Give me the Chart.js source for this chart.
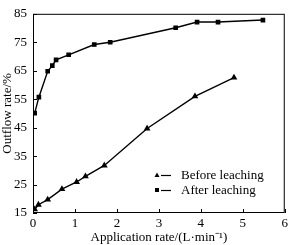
<!DOCTYPE html>
<html><head><meta charset="utf-8">
<script src="https://cdn.jsdelivr.net/npm/chart.js@4/dist/chart.umd.min.js"></script>
<style>html,body{margin:0;padding:0;background:#fff}#wrap{width:291px;height:245px}</style>
</head><body><div id="wrap"><canvas id="c"></canvas></div>
<script>
const beforeX = [0.04,0.13,0.35,0.69,1.04,1.25,1.70,2.72,3.86,4.79];
const beforeY = [16.3,17.9,19.7,23.4,25.9,27.9,31.7,44.7,56.0,62.6];
const afterX = [0.04,0.14,0.35,0.46,0.55,0.85,1.46,1.84,3.40,3.91,4.41,5.48];
const afterY = [50.1,55.7,64.8,66.8,68.8,70.6,74.2,75.0,80.1,82.1,82.1,82.8];
const xTicks = [0,1,2,3,4,5,6];
const yTicks = [15,25,35,45,55,65,75,85];
const seriesNames = ['Before leaching','After leaching'];

const FONT = 'Liberation Serif';
const pts = (xs, ys) => xs.map((x,i)=>({x, y: ys[i]}));

const framePlugin = {
  id:'frame',
  afterDraw(chart){
    const {ctx, chartArea:a, scales:{x,y}} = chart;
    ctx.save();
    ctx.strokeStyle='#000'; ctx.lineWidth=1;
    ctx.strokeRect(a.left+0.5, a.top+0.5, a.right-a.left-1, a.bottom-a.top-1);
    ctx.beginPath();
    xTicks.forEach(v=>{const px=Math.round(x.getPixelForValue(v))+0.5; ctx.moveTo(px,a.bottom); ctx.lineTo(px,a.bottom-4);});
    yTicks.forEach(v=>{const py=Math.round(y.getPixelForValue(v))+0.5; ctx.moveTo(a.left,py); ctx.lineTo(a.left+4,py);});
    ctx.stroke();
    // legend
    ctx.font = '13px "'+FONT+'"';
    ctx.textBaseline='middle'; ctx.fillStyle='#000';
    const items=[{y:175,style:'triangle'},{y:190,style:'rect'}];
    items.forEach((it,i)=>{
      const mx=157;
      ctx.beginPath();
      if(it.style==='triangle'){ctx.moveTo(mx,it.y-2.5);ctx.lineTo(mx+2.5,it.y+2);ctx.lineTo(mx-2.5,it.y+2);ctx.closePath();ctx.fill();}
      else{ctx.fillRect(mx-2,it.y-2,4,4);}
      ctx.beginPath(); ctx.lineWidth=1.2; ctx.moveTo(161,it.y+0.5); ctx.lineTo(171,it.y+0.5); ctx.stroke();
      ctx.fillText(seriesNames[i], 181, it.y+1);
    });
    ctx.restore();
  }
};

new Chart(document.getElementById('c'), {
  type:'scatter',
  data:{datasets:[
    {label:seriesNames[0], data:pts(beforeX,beforeY), showLine:true, borderColor:'#000', backgroundColor:'#000', borderWidth:1.4, pointStyle:'triangle', pointRadius:2.5, pointHoverRadius:2.5},
    {label:seriesNames[1], data:pts(afterX,afterY), showLine:true, borderColor:'#000', backgroundColor:'#000', borderWidth:1.4, pointStyle:'rect', pointRadius:2.3, pointHoverRadius:2.3}
  ]},
  options:{
    responsive:true, maintainAspectRatio:false, animation:false,
    layout:{padding:{top:2,right:1,left:0,bottom:0}},
    plugins:{legend:{display:false}, tooltip:{enabled:false}},
    scales:{
      x:{type:'linear', min:0, max:6,
        afterBuildTicks(s){s.ticks=xTicks.map(v=>({value:v}));},
        afterFit(s){s.height=32;},
        grid:{display:false, drawTicks:false}, border:{display:false},
        ticks:{color:'#000', font:{family:FONT,size:13}, padding:3, maxRotation:0},
        title:{display:true, text:'Application rate/(L·min⁻¹)', color:'#000', font:{family:FONT,size:13}, padding:{top:0,bottom:0}}
      },
      y:{type:'linear', min:15, max:85,
        afterBuildTicks(s){s.ticks=yTicks.map(v=>({value:v}));},
        afterFit(s){s.width=33;},
        grid:{display:false, drawTicks:false}, border:{display:false},
        ticks:{color:'#000', font:{family:FONT,size:13}, padding:6},
        title:{display:true, text:'Outflow rate/%', color:'#000', font:{family:FONT,size:13}, padding:{top:0,bottom:0}}
      }
    }
  },
  plugins:[framePlugin]
});
</script></body></html>
